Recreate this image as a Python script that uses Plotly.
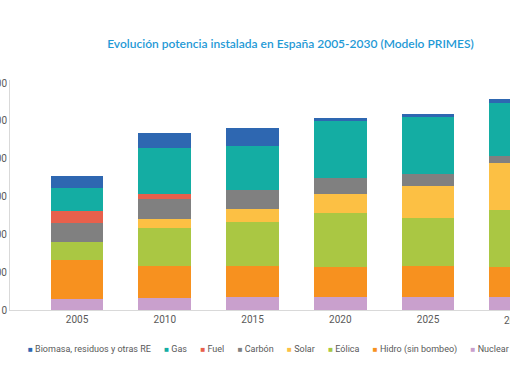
import plotly.graph_objects as go

years = ["2005", "2010", "2015", "2020", "2025", "2030"]

# Installed capacity (MW)
nuclear = [5700, 6500, 7000, 7000, 7000, 7000]
hidro = [20600, 16900, 16400, 15700, 16400, 15900]
eolica = [9700, 20100, 23300, 28700, 25400, 29800]
solar = [0, 4400, 6500, 9900, 16900, 25000]
carbon = [9900, 10700, 10400, 8500, 6300, 3700]
fuel = [6300, 2600, 0, 0, 0, 0]
gas = [12500, 24300, 22900, 30200, 29800, 28200]
biomasa = [6200, 8100, 9700, 1600, 1800, 1800]

series_names = ["Nuclear", "Hidro (sin bombeo)", "Eólica", "Solar", "Carbón", "Fuel", "Gas",
                "Biomasa, residuos y otras RE"]
series_values = [nuclear, hidro, eolica, solar, carbon, fuel, gas, biomasa]
series_colors = ["#c9a0cd", "#f7911f", "#aac743", "#fcc044", "#808080", "#e8604c", "#14ada3", "#2e67b1"]

y_ticks = [0, 20000, 40000, 60000, 80000, 100000, 120000]

W, H = 510, 382
ml, mr, mt, mb = 10, 0, 80, 72
xmin, xmax = -0.7635, 4.934
ymax = 120000 * (310 - 80) / (310 - 83)

fig = go.Figure()
for name, vals, col in zip(series_names, series_values, series_colors):
    fig.add_trace(go.Bar(x=years, y=vals, name=name, marker=dict(color=col, line=dict(width=0)),
                         showlegend=False))

# legend as one centered line of text (legend order = reversed stack order)
parts = []
for name, col in zip(series_names[::-1], series_colors[::-1]):
    parts.append(f"<span style='color:{col};font-size:8px'>■</span>\u00a0{name}")
legend_text = ("\u00a0" * 6).join(parts)

# partially visible last category label
x_last = (len(years) - 1 - xmin) / (xmax - xmin)

fig.update_layout(
    width=W, height=H,
    margin=dict(l=ml, r=mr, t=mt, b=mb, pad=0),
    barmode="stack",
    bargap=0.4,
    paper_bgcolor="white",
    plot_bgcolor="white",
    font=dict(family="Roboto, sans-serif", size=10, color="#595959"),
    separators=",.",
    title=dict(
        text="Evolución potencia instalada en España 2005-2030 (Modelo PRIMES)",
        x=290.5 / W, xanchor="center", xref="container",
        y=1 - 44 / H, yanchor="middle", yref="container",
        font=dict(family="Lato, sans-serif", size=12, color="#1f9ad6", weight=600),
    ),
    xaxis=dict(
        type="category", range=[xmin, xmax], showgrid=False, showline=True,
        linecolor="#d9d9d9", linewidth=1, ticks="", automargin=False,
        tickfont=dict(size=10, color="#595959"), fixedrange=True,
    ),
    yaxis=dict(
        range=[0, ymax], tickvals=y_ticks, tickformat=",d", showgrid=False,
        showline=True, linecolor="#d9d9d9", linewidth=1, ticks="", zeroline=False,
        automargin=False, tickfont=dict(size=10, color="#595959"), fixedrange=True,
    ),
    annotations=[
        dict(text=legend_text, xref="paper", yref="paper", x=(268 - ml) / (W - ml - mr),
             y=(310 - 349) / (310 - 80), xanchor="center", yanchor="middle",
             showarrow=False, font=dict(size=9, color="#595959")),
        dict(text=years[-1], xref="paper", yref="paper", x=x_last, y=0, yshift=-10,
             xanchor="center", yanchor="middle", showarrow=False,
             font=dict(size=10, color="#595959")),
    ],
)

fig.write_html("out.html", config={"displayModeBar": False},
               post_script="document.body.style.margin='0';")
